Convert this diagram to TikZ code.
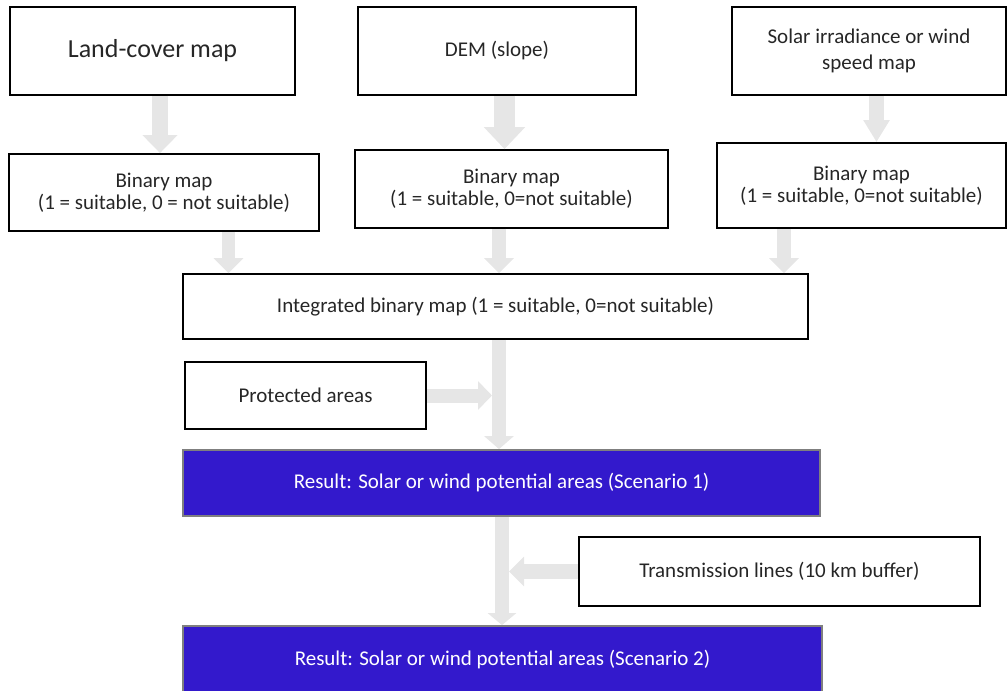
\documentclass[tikz,border=0pt]{standalone}
\usepackage{fontspec}
\setmainfont{Carlito}
\usepackage{tikz}
\usetikzlibrary{arrows.meta,positioning}
\definecolor{arrowgray}{RGB}{230,230,230}
\definecolor{resultblue}{RGB}{51,25,204}
\definecolor{resultedge}{RGB}{127,127,127}
\definecolor{inktext}{RGB}{38,38,38}

\begin{document}
\begin{tikzpicture}[  x=1pt,  y=-1pt,  font=\fontsize{21}{22}\selectfont,  box/.style={draw, line width=1.8pt, align=center, inner sep=0pt, text=inktext},  result/.style={draw=resultedge, fill=resultblue, line width=1.8pt, align=center, inner sep=0pt, text=white},  flow/.style args={#1/#2/#3}{draw=arrowgray, line width=#1, -{Triangle[width=#2,length=#3]}},  ]

  \clip (0,0) rectangle (1008,690);

  \node[box, minimum width=285pt, minimum height=88pt, font=\fontsize{26}{30}\selectfont] (land) at (152.5,51) {Land-cover map};
  \node[box, minimum width=278pt, minimum height=88pt] (dem) at (497,51) {\raisebox{4pt}{DEM (slope)}};
  \node[box, minimum width=274pt, minimum height=88pt, font=\fontsize{21}{26}\selectfont] (solar) at (869,51) {Solar irradiance or wind\\speed map};

  \node[box, minimum width=310pt, minimum height=77pt] (bin1) at (164,192.5) {Binary map\\(1 = suitable, 0 = not suitable)};
  \node[box, minimum width=313pt, minimum height=78pt] (bin2) at (511.5,189) {Binary map\\(1 = suitable, 0=not suitable)};
  \node[box, minimum width=289pt, minimum height=85pt] (bin3) at (861.5,185.5) {Binary map\\(1 = suitable, 0=not suitable)};

  \node[box, minimum width=625pt, minimum height=65pt] (integ) at (495.5,306.5) {Integrated binary map (1 = suitable, 0=not suitable)};
  \node[box, minimum width=241pt, minimum height=67pt] (prot) at (305.5,395.5) {Protected areas};
  \node[result, minimum width=637pt, minimum height=66pt] (res1) at (501.5,483) {Result: Solar or wind potential areas (Scenario 1)};
  \node[box, minimum width=401pt, minimum height=69pt] (trans) at (779.5,571.5) {Transmission lines (10 km buffer)};
  \node[result, minimum width=639pt, minimum height=68pt] (res2) at (502.5,660) {Result: Solar or wind potential areas (Scenario 2)};

  \draw[flow=16pt/34pt/18pt] (land.south -| 160,0) -- (bin1.north -| 160,0);
  \draw[flow=21pt/40pt/22pt] (dem.south -| 504.5,0) -- (bin2.north -| 504.5,0);
  \draw[flow=15pt/25pt/22pt] (solar.south -| 876.5,0) -- (bin3.north -| 876.5,0);

  \draw[flow=13pt/29pt/15pt] (bin1.south -| 228.5,0) -- (integ.north -| 228.5,0);
  \draw[flow=14pt/29pt/15pt] (bin2.south -| 499,0) -- (integ.north -| 499,0);
  \draw[flow=14pt/29pt/15pt] (bin3.south -| 784,0) -- (integ.north -| 784,0);

  \draw[flow=14pt/29pt/13pt] (integ.south -| 499,0) -- (res1.north -| 499,0);
  \draw[flow=14pt/28pt/14pt] (prot.east) -- (prot.east -| 492,0);
  \draw[flow=14pt/28pt/12pt] (res1.south -| 502,0) -- (res2.north -| 502,0);
  \draw[flow=15pt/29pt/15pt] (trans.west) -- (trans.west -| 509,0);
\end{tikzpicture}
\end{document}
